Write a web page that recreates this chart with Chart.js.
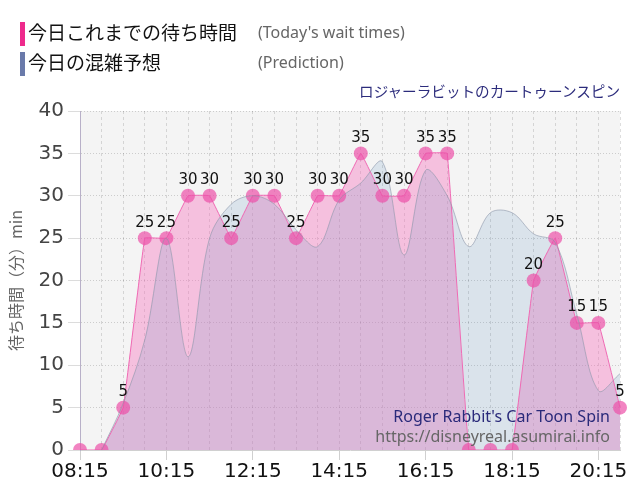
<!DOCTYPE html>
<html lang="ja">
<head>
  <meta charset="UTF-8" />
  <title>ロジャーラビットのカートゥーンスピン 待ち時間</title>
  <script src="https://cdn.jsdelivr.net/npm/chart.js"></script>
  <style>
    body { margin: 0; background: #fff; }
    #wrap { position: relative; width: 640px; height: 500px; overflow: hidden; }
    #chart { position: absolute; left: 0; top: 0; }
    .bar { position: absolute; left: 20px; width: 5px; height: 24px; }
    .lg { position: absolute; left: 28px; font: 19px "Noto Sans CJK JP", sans-serif; color: #111; line-height: 24px; }
    .en { position: absolute; left: 258px; font: 16px "Noto Sans", sans-serif; color: #666; line-height: 24px; }
    #sub { position: absolute; right: 20px; top: 80px; font: 14.6px "Noto Sans CJK JP", sans-serif; color: #2c2c7c; line-height: 22px; }
    .wm { position: absolute; right: 30px; font: 16px "Noto Sans", sans-serif; line-height: 20px; }
  </style>
</head>
<body>
  <div id="wrap">
    <canvas id="chart" width="640" height="500"></canvas>
    <div class="bar" style="top:22px;background:#ee2a8c"></div>
    <div class="lg" style="top:20px">今日これまでの待ち時間</div>
    <div class="en" style="top:20px">(Today's wait times)</div>
    <div class="bar" style="top:52px;background:#6a7aaa"></div>
    <div class="lg" style="top:50px">今日の混雑予想</div>
    <div class="en" style="top:50px">(Prediction)</div>
    <div id="sub">ロジャーラビットのカートゥーンスピン</div>
    <div class="wm" style="top:406px;color:#2a2a7a">Roger Rabbit's Car Toon Spin</div>
    <div class="wm" style="top:426px;color:#666">https://disneyreal.asumirai.info</div>
  </div>

  <script>
    // 30分ごとの時刻
    const times = ['08:15','08:45','09:15','09:45','10:15','10:45','11:15','11:45',
      '12:15','12:45','13:15','13:45','14:15','14:45','15:15','15:45',
      '16:15','16:45','17:15','17:45','18:15','18:45','19:15','19:45','20:15','20:45'];

    // 今日これまでの待ち時間 (分)
    const waitToday = [0,0,5,25,25,30,30,25,30,30,25,30,30,35,30,30,35,35,0,0,0,20,25,15,15,5];

    // 今日の混雑予想 (分)
    const prediction = [null,0,5.5,13,25,11,25,29,30,29,26,24,29.5,31.5,34,23,33,30,24,28,28,25.5,24.5,16,7,9];

    const yTicks = [0,5,10,15,20,25,30,35,40];

    // プロットエリアの背景
    const areaBg = {
      id: 'areaBg',
      beforeDraw(chart) {
        const a = chart.chartArea, c = chart.ctx;
        c.save();
        c.fillStyle = '#f4f4f4';
        c.fillRect(a.left, a.top, a.right - a.left, a.bottom - a.top);
        c.restore();
      }
    };

    // 点の上に値を表示
    const valueLabels = {
      id: 'valueLabels',
      afterDatasetsDraw(chart) {
        const meta = chart.getDatasetMeta(1);
        const c = chart.ctx;
        c.save();
        c.font = '15px "DejaVu Sans", sans-serif';
        c.fillStyle = '#111';
        c.textAlign = 'center';
        c.textBaseline = 'bottom';
        meta.data.forEach((pt, i) => {
          const v = waitToday[i];
          if (v > 0) c.fillText(String(v), pt.x, pt.y - 8);
        });
        c.restore();
      }
    };

    new Chart(document.getElementById('chart'), {
      type: 'line',
      data: {
        labels: times,
        datasets: [
          {
            label: '今日の混雑予想',
            data: prediction,
            order: 0,
            borderColor: 'rgba(140,150,170,0.6)',
            borderWidth: 1,
            backgroundColor: 'rgba(100,150,195,0.18)',
            fill: 'origin',
            tension: 0.35,
            pointRadius: 0
          },
          {
            label: '今日これまでの待ち時間',
            data: waitToday,
            order: 1,
            borderColor: '#f06ab4',
            borderWidth: 1,
            backgroundColor: 'rgba(246,120,190,0.42)',
            fill: 'origin',
            tension: 0.05,
            pointRadius: 7,
            pointBorderWidth: 0,
            pointBackgroundColor: 'rgba(236,80,168,0.7)'
          }
        ]
      },
      options: {
        responsive: false,
        animation: false,
        layout: { padding: { top: 111, right: 20, left: 0, bottom: 0 } },
        plugins: {
          legend: { display: false },
          tooltip: { enabled: false },
          filler: { drawTime: 'beforeDatasetsDraw' }
        },
        scales: {
          x: {
            afterFit: s => { s.height = 50; },
            grid: {
              color: 'rgba(0,0,0,0.13)',
              tickLength: 10,
              tickColor: c => c.index % 4 === 0 ? '#d0d0d0' : 'rgba(0,0,0,0)'
            },
            border: { color: '#d0d0d0', dash: [3, 3] },
            ticks: {
              autoSkip: false,
              maxRotation: 0,
              padding: 0,
              color: '#111',
              font: { family: 'DejaVu Sans', size: 20 },
              callback: (v, i) => i % 4 === 0 ? times[i] : ''
            }
          },
          y: {
            min: 0,
            max: 40,
            afterFit: s => { s.width = 80; },
            afterBuildTicks: s => { s.ticks = yTicks.map(v => ({ value: v })); },
            grid: { color: 'rgba(0,0,0,0.16)', tickLength: 12, tickColor: '#dcdcdc' },
            border: { color: '#b8b0c8', dash: [1, 2] },
            ticks: {
              padding: 4,
              color: '#444',
              font: { family: 'DejaVu Sans', size: 20 }
            },
            title: {
              display: true,
              text: '待ち時間（分）min',
              color: '#666',
              padding: { top: 6, bottom: 0 },
              font: { family: 'Noto Sans CJK JP', size: 16 }
            }
          }
        }
      },
      plugins: [areaBg, valueLabels]
    });
  </script>
</body>
</html>
